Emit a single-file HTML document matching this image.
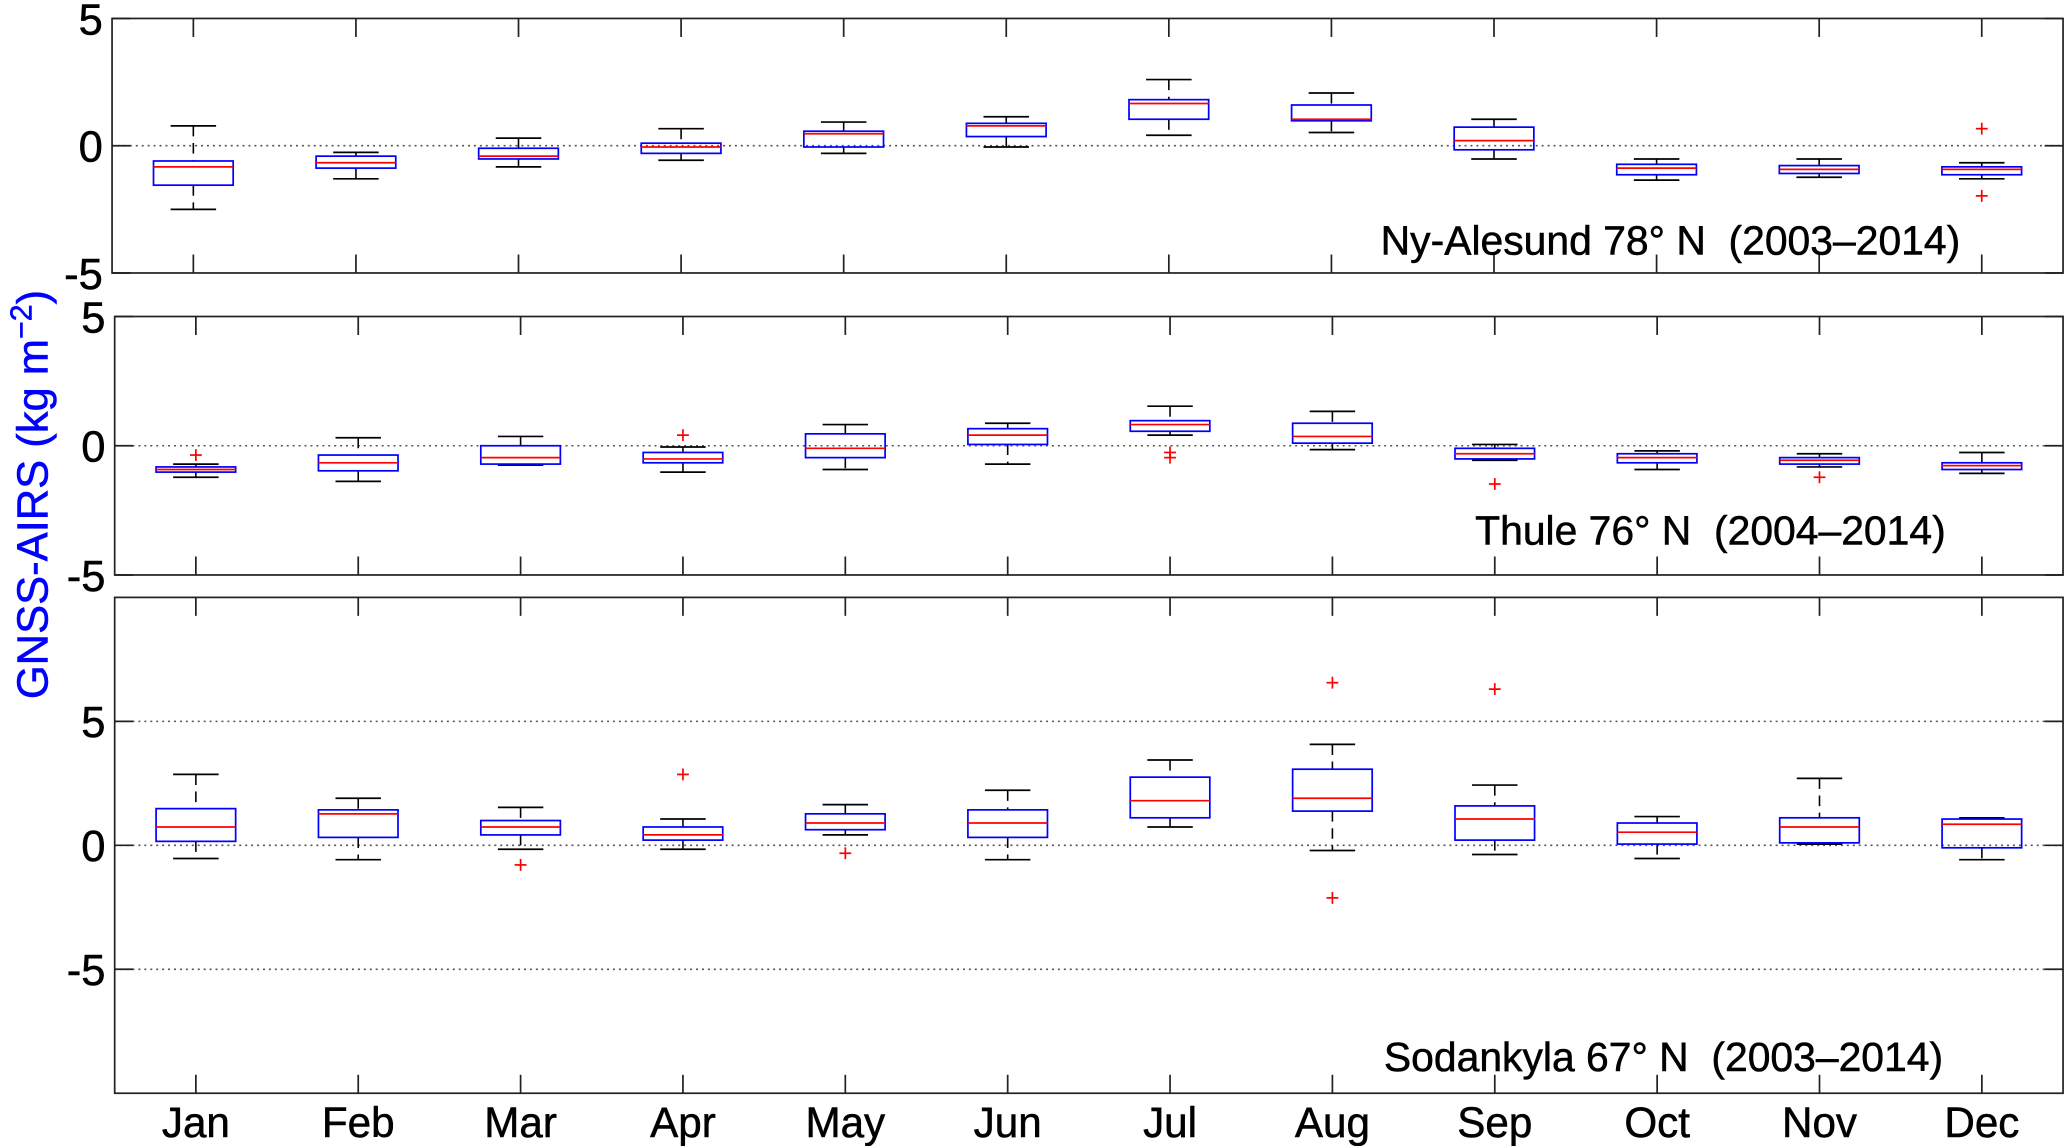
<!DOCTYPE html>
<html><head><meta charset="utf-8"><style>
html,body{margin:0;padding:0;background:#fff;}
svg{display:block;}
text{font-family:"Liberation Sans",Arial,sans-serif;}
</style></head><body>
<svg id="chart" xmlns="http://www.w3.org/2000/svg" width="2067" height="1146" viewBox="0 0 1568 869" preserveAspectRatio="none">
<text transform="translate(36,375) rotate(-90)" text-anchor="middle" font-size="33" fill="#0000ff" stroke="#0000ff" stroke-width="0.4">GNSS-AIRS  (kg m<tspan baseline-shift="super" font-size="23">−2</tspan>)</text>
</svg>
<script>
const months = ["Jan","Feb","Mar","Apr","May","Jun","Jul","Aug","Sep","Oct","Nov","Dec"];
const stationLabels = ["Ny-Alesund 78° N  (2003–2014)","Thule 76° N  (2004–2014)","Sodankyla 67° N  (2003–2014)"];
const nyLow  = [-2.5,-1.3,-0.83,-0.57,-0.3,-0.05,0.41,0.52,-0.52,-1.35,-1.24,-1.3];
const nyQ1   = [-1.55,-0.88,-0.52,-0.3,-0.05,0.36,1.04,0.98,-0.16,-1.14,-1.09,-1.14];
const nyMed  = [-0.83,-0.67,-0.41,-0.05,0.47,0.78,1.66,1.04,0.2,-0.88,-0.93,-0.93];
const nyQ3   = [-0.6,-0.41,-0.1,0.1,0.57,0.88,1.81,1.6,0.73,-0.73,-0.78,-0.83];
const nyHigh = [0.78,-0.26,0.3,0.67,0.93,1.14,2.6,2.07,1.04,-0.52,-0.52,-0.67];
const nyOut  = [[12,0.67],[12,-1.97]];
const thLow  = [-1.22,-1.38,-0.75,-1.02,-0.92,-0.71,0.41,-0.15,-0.56,-0.92,-0.82,-1.07];
const thQ1   = [-1.02,-0.97,-0.71,-0.66,-0.46,0.05,0.56,0.1,-0.51,-0.66,-0.71,-0.92];
const thMed  = [-0.92,-0.66,-0.46,-0.51,-0.1,0.41,0.82,0.36,-0.31,-0.46,-0.56,-0.77];
const thQ3   = [-0.82,-0.36,0,-0.26,0.46,0.66,0.97,0.87,-0.1,-0.31,-0.46,-0.66];
const thHigh = [-0.71,0.31,0.36,-0.05,0.82,0.87,1.53,1.33,0.05,-0.2,-0.31,-0.26];
const thOut  = [[1,-0.36],[4,0.41],[7,-0.26],[7,-0.46],[9,-1.48],[11,-1.22]];
const soLow  = [-0.53,-0.58,-0.16,-0.16,0.42,-0.58,0.74,-0.21,-0.37,-0.53,0.05,-0.58];
const soQ1   = [0.16,0.32,0.42,0.21,0.63,0.32,1.11,1.38,0.21,0.05,0.1,-0.1];
const soMed  = [0.74,1.27,0.74,0.42,0.9,0.9,1.8,1.9,1.06,0.53,0.74,0.85];
const soQ3   = [1.48,1.43,1.0,0.74,1.27,1.43,2.75,3.07,1.59,0.9,1.11,1.06];
const soHigh = [2.86,1.9,1.53,1.06,1.64,2.22,3.44,4.07,2.43,1.16,2.7,1.11];
const soOut  = [[3,-0.79],[4,2.86],[5,-0.32],[8,6.56],[8,-2.12],[9,6.3]];
const yTicks12 = [5,0,-5];
const yTicks3 = [5,0,-5];

const NS="http://www.w3.org/2000/svg";
const svg=document.getElementById('chart');
function mk(tag,attrs,parent){const e=document.createElementNS(NS,tag);for(const k in attrs)e.setAttribute(k,attrs[k]);(parent||svg).appendChild(e);return e;}

const panels=[
 {top:14,bottom:207,left:85,right:1565,ymin:-5,ymax:5,low:nyLow,q1:nyQ1,med:nyMed,q3:nyQ3,high:nyHigh,out:nyOut,ticks:yTicks12,grid:[0],label:stationLabels[0],lx:1487,ly:193,name:'ny-alesund'},
 {top:240,bottom:436,left:87,right:1565,ymin:-5,ymax:5,low:thLow,q1:thQ1,med:thMed,q3:thQ3,high:thHigh,out:thOut,ticks:yTicks12,grid:[0],label:stationLabels[1],lx:1476,ly:413,name:'thule'},
 {top:453,bottom:829,left:87,right:1565,ymin:-10,ymax:10,low:soLow,q1:soQ1,med:soMed,q3:soQ3,high:soHigh,out:soOut,ticks:yTicks3,grid:[5,0,-5],label:stationLabels[2],lx:1474,ly:812,name:'sodankyla'}
];

panels.forEach((p,pi)=>{
  const g=mk('g',{});
  
  
  const xs=m=>p.left+(m-0.5)*(p.right-p.left)/12;
  const ys=v=>p.bottom-(v-p.ymin)*(p.bottom-p.top)/(p.ymax-p.ymin);
  p.grid.forEach(v=>{const l=mk('line',{x1:p.left,x2:p.right,y1:ys(v),y2:ys(v),stroke:'#555','stroke-width':1.2,'stroke-dasharray':'1.5,3'},g);
    
    });
  const fr=mk('rect',{x:p.left,y:p.top,width:p.right-p.left,height:p.bottom-p.top,fill:'none',stroke:'#222','stroke-width':1.3},g);
  
  
  for(let m=1;m<=12;m++){
    mk('line',{x1:xs(m),x2:xs(m),y1:p.top,y2:p.top+14,stroke:'#222','stroke-width':1.3},g);
    mk('line',{x1:xs(m),x2:xs(m),y1:p.bottom,y2:p.bottom-14,stroke:'#222','stroke-width':1.3},g);
  }
  p.ticks.forEach(v=>{
    mk('line',{x1:p.left,x2:p.left+14,y1:ys(v),y2:ys(v),stroke:'#222','stroke-width':1.3},g);
    mk('line',{x1:p.right,x2:p.right-14,y1:ys(v),y2:ys(v),stroke:'#222','stroke-width':1.3},g);
    const t=mk('text',{x:p.left-7,y:ys(v)+12,'text-anchor':'end','font-size':33,fill:'#000',stroke:'#000','stroke-width':0.4},g);
    t.textContent=v<0?'-'+Math.abs(v):String(v);
    
    
  });
  for(let i=0;i<12;i++){
    const m=i+1,cx=xs(m),hw=0.245*(p.right-p.left)/12,cw=0.14*(p.right-p.left)/12;
    const bg=mk('g',{},g);
    
    
    mk('line',{x1:cx,x2:cx,y1:ys(p.high[i]),y2:ys(p.q3[i]),stroke:'#000','stroke-width':1.2,'stroke-dasharray':'8,5'},bg);
    mk('line',{x1:cx,x2:cx,y1:ys(p.q1[i]),y2:ys(p.low[i]),stroke:'#000','stroke-width':1.2,'stroke-dasharray':'8,5'},bg);
    mk('line',{x1:cx-cw,x2:cx+cw,y1:ys(p.high[i]),y2:ys(p.high[i]),stroke:'#000','stroke-width':1.3},bg);
    mk('line',{x1:cx-cw,x2:cx+cw,y1:ys(p.low[i]),y2:ys(p.low[i]),stroke:'#000','stroke-width':1.3},bg);
    mk('rect',{x:cx-hw,y:ys(p.q3[i]),width:2*hw,height:Math.max(1,ys(p.q1[i])-ys(p.q3[i])),fill:'none',stroke:'#0000ff','stroke-width':1.3},bg);
    mk('line',{x1:cx-hw,x2:cx+hw,y1:ys(p.med[i]),y2:ys(p.med[i]),stroke:'#ff0000','stroke-width':1.3},bg);
  }
  p.out.forEach(o=>{
    const x=xs(o[0]),y=ys(o[1]);
    const og=mk('g',{},g);
    
    
    mk('line',{x1:x-4.5,x2:x+4.5,y1:y,y2:y,stroke:'#ff0000','stroke-width':1.3},og);
    mk('line',{x1:x,x2:x,y1:y-4.5,y2:y+4.5,stroke:'#ff0000','stroke-width':1.3},og);
  });
  const lt=mk('text',{x:p.lx,y:p.ly,'text-anchor':'end','font-size':31,fill:'#000',stroke:'#000','stroke-width':0.4,'xml:space':'preserve','style':'white-space:pre'},g);
  lt.textContent=p.label;
  
  
  if(pi===2){
    months.forEach((mn,i)=>{
      const t=mk('text',{x:xs(i+1),y:862,'text-anchor':'middle','font-size':32,fill:'#000',stroke:'#000','stroke-width':0.4},g);
      t.textContent=mn;
      
      
    });
  }
});
</script>
</body></html>
